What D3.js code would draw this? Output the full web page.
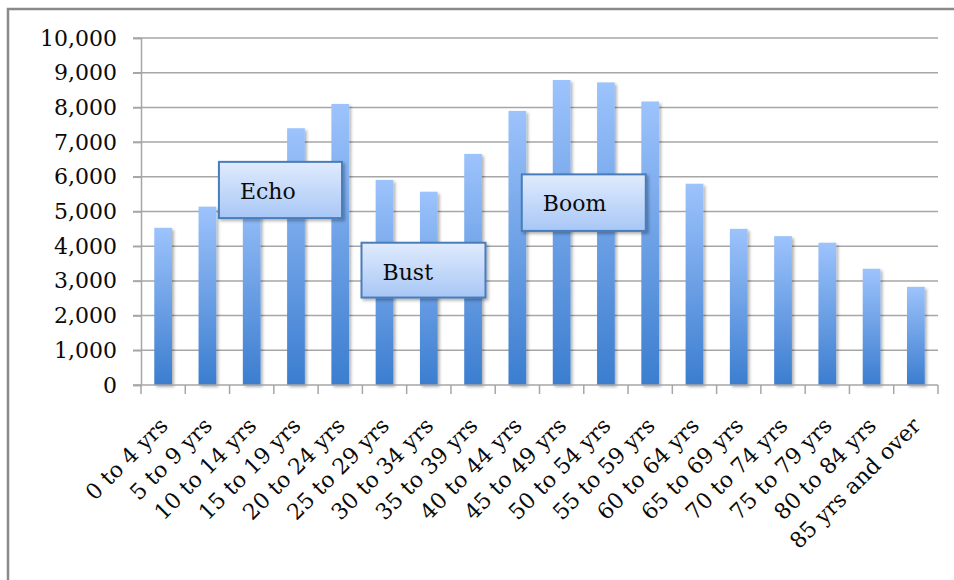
<!doctype html>
<html>
  <head>
    <meta charset="utf-8">
    <title>Population by age group</title>
    <script src="https://cdnjs.cloudflare.com/ajax/libs/d3/7.8.5/d3.min.js"></script>
    <style>
      html, body { margin: 0; padding: 0; background: #fff; overflow: hidden; }
      text { font-family: "DejaVu Serif", "Liberation Serif", serif; fill: #0a0a0a; }
    </style>
  </head>
  <body>
    <div id="chart"></div>
    <script>
      // data
      const ageGroups = ['0 to 4 yrs', '5 to 9 yrs', '10 to 14 yrs', '15 to 19 yrs', '20 to 24 yrs',
        '25 to 29 yrs', '30 to 34 yrs', '35 to 39 yrs', '40 to 44 yrs', '45 to 49 yrs',
        '50 to 54 yrs', '55 to 59 yrs', '60 to 64 yrs', '65 to 69 yrs', '70 to 74 yrs',
        '75 to 79 yrs', '80 to 84 yrs', '85 yrs and over'];
      const population = [4530, 5140, 5600, 7400, 8100, 5910, 5570, 6660, 7900, 8790,
        8720, 8170, 5800, 4500, 4290, 4100, 3350, 2830];
      const yTicks = [0, 1000, 2000, 3000, 4000, 5000, 6000, 7000, 8000, 9000, 10000];

      // callout boxes: label, from/to position (in category steps), top/bottom value
      const calloutLabels = ['Echo', 'Bust', 'Boom'];
      const calloutStep = [[1.76, 4.54], [4.98, 7.78], [8.6, 11.4]];
      const calloutValue = [[6430, 4810], [4100, 2520], [6070, 4440]];

      const width = 954, height = 580;
      const plotLeft = 141, plotRight = 938, plotTop = 38, plotBottom = 385;

      const svg = d3.select('#chart').append('svg')
        .attr('width', width)
        .attr('height', height);

      const defs = svg.append('defs');
      const barGrad = defs.append('linearGradient')
        .attr('id', 'barGrad').attr('x1', 0).attr('y1', 0).attr('x2', 0).attr('y2', 1);
      barGrad.append('stop').attr('offset', '0%').attr('stop-color', '#9dc3fc');
      barGrad.append('stop').attr('offset', '100%').attr('stop-color', '#3b7dcf');

      const boxGrad = defs.append('linearGradient')
        .attr('id', 'boxGrad').attr('x1', 0).attr('y1', 0).attr('x2', 0).attr('y2', 1);
      boxGrad.append('stop').attr('offset', '0%').attr('stop-color', '#e0ebfd');
      boxGrad.append('stop').attr('offset', '100%').attr('stop-color', '#a8c7f6');

      const shadow = defs.append('filter').attr('id', 'shadow')
        .attr('x', '-20%').attr('y', '-20%').attr('width', '150%').attr('height', '150%');
      shadow.append('feDropShadow')
        .attr('dx', 2).attr('dy', 2).attr('stdDeviation', 1.5)
        .attr('flood-color', '#000').attr('flood-opacity', 0.3);

      // outer frame (only left and top edges show in the window)
      svg.append('rect')
        .attr('x', 8).attr('y', 9)
        .attr('width', 1000).attr('height', 700)
        .attr('fill', 'none')
        .attr('stroke', '#8a8a8a')
        .attr('stroke-width', 2.5);

      const x = d3.scaleBand()
        .domain(ageGroups)
        .range([plotLeft, plotRight])
        .paddingInner(0.6)
        .paddingOuter(0.3);
      const step = x.step();

      const y = d3.scaleLinear().domain([0, 10000]).range([plotBottom, plotTop]);

      // gridlines
      svg.append('g')
        .selectAll('line')
        .data(yTicks.filter(d => d > 0))
        .join('line')
        .attr('x1', plotLeft - 8).attr('x2', plotRight)
        .attr('y1', d => y(d)).attr('y2', d => y(d))
        .attr('stroke', '#a6a6a6')
        .attr('stroke-width', 1.5);

      // y axis
      const yAxis = svg.append('g')
        .attr('transform', `translate(${plotLeft},0)`)
        .call(d3.axisLeft(y).tickValues(yTicks).tickSize(8).tickPadding(16)
          .tickFormat(d3.format(',')));
      yAxis.select('.domain').attr('stroke', '#a6a6a6').attr('stroke-width', 1.5);
      yAxis.selectAll('.tick line').attr('stroke', '#a6a6a6').attr('stroke-width', 1.5);
      yAxis.selectAll('.tick text')
        .style('font-size', '22px')
        .style('font-family', '"DejaVu Serif", serif')
        .attr('fill', '#0a0a0a');

      // bars
      svg.append('g')
        .selectAll('rect')
        .data(population)
        .join('rect')
        .attr('x', (d, i) => x(ageGroups[i]))
        .attr('y', d => y(d))
        .attr('width', x.bandwidth())
        .attr('height', d => y(0) - y(d))
        .attr('fill', 'url(#barGrad)')
        .attr('filter', 'url(#shadow)');

      // x axis line with ticks between categories
      svg.append('line')
        .attr('x1', plotLeft - 8).attr('x2', plotRight)
        .attr('y1', plotBottom).attr('y2', plotBottom)
        .attr('stroke', '#a6a6a6').attr('stroke-width', 1.5);
      svg.append('g')
        .selectAll('line')
        .data(d3.range(ageGroups.length + 1))
        .join('line')
        .attr('x1', i => plotLeft + i * step).attr('x2', i => plotLeft + i * step)
        .attr('y1', plotBottom).attr('y2', plotBottom + 9)
        .attr('stroke', '#a6a6a6').attr('stroke-width', 1.5);

      // category labels, rotated
      svg.append('g')
        .selectAll('text')
        .data(ageGroups)
        .join('text')
        .attr('transform', d => `translate(${x(d) + x.bandwidth() / 2 + 6},${plotBottom + 42}) rotate(-45)`)
        .attr('text-anchor', 'end')
        .style('font-size', '22px')
        .text(d => d);

      // callout boxes
      const callouts = svg.append('g')
        .selectAll('g')
        .data(calloutLabels)
        .join('g');

      callouts.append('rect')
        .attr('x', (d, i) => plotLeft + calloutStep[i][0] * step)
        .attr('y', (d, i) => y(calloutValue[i][0]))
        .attr('width', (d, i) => (calloutStep[i][1] - calloutStep[i][0]) * step)
        .attr('height', (d, i) => y(calloutValue[i][1]) - y(calloutValue[i][0]))
        .attr('fill', 'url(#boxGrad)')
        .attr('stroke', '#4a7dba')
        .attr('stroke-width', 2)
        .attr('filter', 'url(#shadow)');

      callouts.append('text')
        .attr('x', (d, i) => plotLeft + calloutStep[i][0] * step + 21)
        .attr('y', (d, i) => y(calloutValue[i][0]) + 37)
        .style('font-size', '22px')
        .text(d => d);
    </script>
  </body>
</html>
